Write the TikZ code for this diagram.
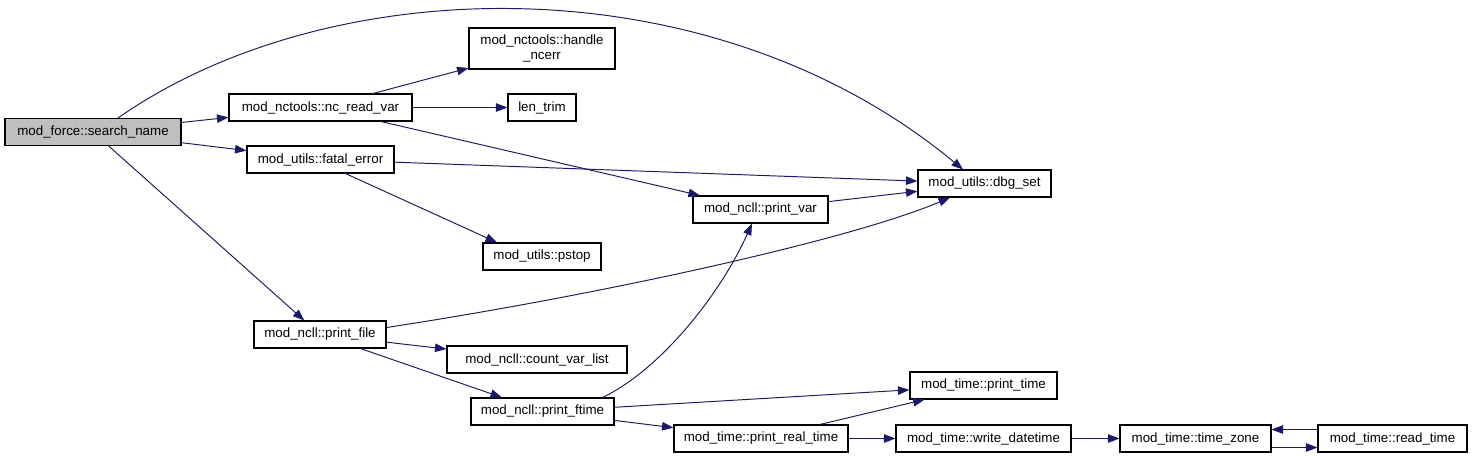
\documentclass[tikz,border=0pt]{standalone}
\usepackage{fontspec}
\setmainfont{Liberation Sans}
\usetikzlibrary{arrows.meta,positioning}
\definecolor{edge}{HTML}{191970}
\definecolor{cur}{HTML}{BFBFBF}

\begin{document}
\begin{tikzpicture}[
    fn/.style={rectangle,draw=black,fill=white,line width=0.6pt,minimum height=0.54cm,inner sep=1pt,font=\fontsize{7.6pt}{8.6pt}\selectfont,align=center},
    arr/.style={-{Triangle[length=2.3mm,width=1.7mm]},draw=edge,line width=0.55pt},
]
\useasboundingbox (0,0) rectangle (29.46,-9.12);

% Column 1: caller
\node[fn,fill=cur,minimum width=3.52cm] (sn) at (1.86,-2.64) {mod\_force::search\_name};

% Column 2
\node[fn,minimum width=3.66cm] (ncr) at (6.41,-2.15) {mod\_nctools::nc\_read\_var};
\node[fn,minimum width=2.94cm] (fe) at (6.41,-3.19) {mod\_utils::fatal\_error};
\node[fn,minimum width=2.64cm] (pf) at (6.40,-6.69) {mod\_ncll::print\_file};

% Column 3
\node[fn,minimum width=2.92cm,minimum height=0.82cm] (hn) at (10.84,-0.97) {mod\_nctools::handle\\\_ncerr};
\node[fn,minimum width=1.36cm] (lt) at (10.84,-2.15) {len\_trim};
\node[fn,minimum width=2.36cm] (ps) at (10.84,-5.13) {mod\_utils::pstop};
\node[fn,minimum width=3.60cm] (cvl) at (10.74,-7.19) {mod\_ncll::count\_var\_list};
\node[fn,minimum width=2.86cm] (pft) at (10.85,-8.23) {mod\_ncll::print\_ftime};

% Column 4
\node[fn,minimum width=2.70cm] (pv) at (15.21,-4.19) {mod\_ncll::print\_var};
\node[fn,minimum width=3.48cm] (prt) at (15.22,-8.77) {mod\_time::print\_real\_time};

% Column 5
\node[fn,minimum width=2.66cm] (dbg) at (19.69,-3.67) {mod\_utils::dbg\_set};
\node[fn,minimum width=2.94cm] (pt) at (19.67,-7.71) {mod\_time::print\_time};
\node[fn,minimum width=3.50cm] (wd) at (19.67,-8.77) {mod\_time::write\_datetime};

% Column 6 and 7
\node[fn,minimum width=3.02cm] (tz) at (23.91,-8.77) {mod\_time::time\_zone};
\node[fn,minimum width=2.98cm] (rt) at (27.85,-8.77) {mod\_time::read\_time};

% Arrows
\draw[arr] ([xshift=0.5cm]sn.north) .. controls (6.6,0.6) and (14.2,0.8) .. ([xshift=-0.43cm]dbg.north);
\draw[arr] (sn) -- (ncr);
\draw[arr] (sn) -- (fe);
\draw[arr] (sn) -- (pf);
\draw[arr] (ncr) -- (hn);
\draw[arr] (ncr) -- (lt);
\draw[arr] (ncr) -- (pv);
\draw[arr] (fe) -- (dbg);
\draw[arr] ([xshift=0.5cm]fe.south) -- ([xshift=-0.9cm]ps.north);
\draw[arr] (pv) -- (dbg);
\draw[arr] ([yshift=0.14cm]pf.east) .. controls (12,-5.9) and (17,-4.8) .. ([xshift=-0.69cm]dbg.south);
\draw[arr] (pf) -- (cvl);
\draw[arr] (pf) -- (pft);
\draw[arr] ([xshift=1.2cm]pft.north) .. controls (13.2,-7.4) and (14.4,-5.9) .. ([xshift=-0.17cm]pv.south);
\draw[arr] (pft) -- (pt);
\draw[arr] (pft) -- (prt);
\draw[arr] (prt) -- (pt);
\draw[arr] (prt) -- (wd);
\draw[arr] (wd) -- (tz);
\draw[arr] ([yshift=-0.18cm]tz.east) -- ([yshift=-0.18cm]rt.west);
\draw[arr] ([yshift=0.18cm]rt.west) -- ([yshift=0.18cm]tz.east);
\end{tikzpicture}
\end{document}
